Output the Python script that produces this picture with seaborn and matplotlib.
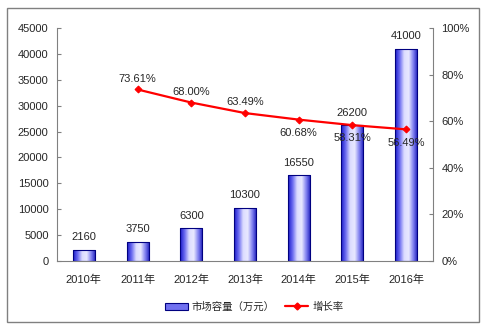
import numpy as np
import pandas as pd
import matplotlib
matplotlib.use("Agg")
import matplotlib.pyplot as plt
from matplotlib.colors import LinearSegmentedColormap
from matplotlib.patches import Rectangle
from matplotlib.lines import Line2D
import seaborn as sns

years = ["2010年", "2011年", "2012年", "2013年", "2014年", "2015年", "2016年"]
capacity = [2160, 3750, 6300, 10300, 16550, 26200, 41000]
growth_years = ["2011年", "2012年", "2013年", "2014年", "2015年", "2016年"]
growth = [73.61, 68.00, 63.49, 60.68, 58.31, 56.49]
growth_above = [True, True, True, False, False, False]
left_ticks = [0, 5000, 10000, 15000, 20000, 25000, 30000, 35000, 40000, 45000]
right_ticks = [0, 20, 40, 60, 80, 100]

sns.set_style("white")
plt.rcParams['font.family'] = ['Liberation Sans', 'Noto Sans CJK SC']

fig = plt.figure(figsize=(4.88, 3.25), dpi=100)
ax = fig.add_axes([57/488, 1-261/325, (433-57)/488, (261-28)/325])

df = pd.DataFrame({"year": years, "cap": capacity})
sns.barplot(data=df, x="year", y="cap", ax=ax, width=0.41, color="#4040e0",
            edgecolor="#000080", linewidth=0.8, saturation=1)
ax.set_xlim(-0.5, len(years)-0.5)
ax.set_ylim(0, 45000)

cmap = LinearSegmentedColormap.from_list("g", ["#1818c8", "#6a6af0", "#dcdcff", "#e8e8ff", "#8080f0", "#1818b8"])
grad = np.linspace(0, 1, 256).reshape(1, -1)
for p in ax.patches:
    x0, y0 = p.get_x(), p.get_y()
    w, h = p.get_width(), p.get_height()
    im = ax.imshow(grad, cmap=cmap, aspect="auto", extent=[x0, x0+w, y0, y0+h], zorder=p.get_zorder()+0.1)
    im.set_clip_path(p)
    p.set_facecolor("none")
    p.set_zorder(p.get_zorder()+0.2)
ax.set_xlim(-0.5, len(years)-0.5)
ax.set_ylim(0, 45000)

for i, v in enumerate(capacity):
    ax.text(i, v + 1500, f"{v}", ha="center", va="bottom", fontsize=8)

ax.set_yticks(left_ticks)
ax.set_yticklabels([str(t) for t in left_ticks], fontsize=8)
ax.set_xticks(range(len(years)))
ax.set_xticklabels(years, fontsize=8)
ax.set_xticks(np.arange(0.5, len(years)-1, 1), minor=True)
ax.tick_params(axis="x", which="major", length=0, pad=10)
ax.tick_params(axis="x", which="minor", direction="in", length=3, color="#808080", width=0.8)
ax.tick_params(axis="y", direction="in", length=3, color="#808080", width=0.8, left=True, pad=6)
ax.set_xlabel("")
ax.set_ylabel("")
for s in ["left", "bottom"]:
    ax.spines[s].set_color("#808080")
    ax.spines[s].set_linewidth(0.8)
ax.spines["top"].set_visible(False)
ax.spines["right"].set_visible(False)

ax2 = ax.twinx()
gx = [years.index(y) for y in growth_years]
gdf = pd.DataFrame({"x": gx, "g": growth})
sns.lineplot(data=gdf, x="x", y="g", ax=ax2, color="#ff0000", linewidth=1.6,
             marker="D", markersize=3.5, markeredgecolor="#ff0000")
ax2.set_ylim(0, 100)
ax2.set_xlim(-0.5, len(years)-0.5)
ax2.set_yticks(right_ticks)
ax2.set_yticklabels([f"{t}%" for t in right_ticks], fontsize=8)
ax2.tick_params(axis="y", direction="in", length=3, color="#808080", width=0.8, right=True, pad=6)
ax2.set_ylabel("")
ax2.set_xlabel("")
for s in ["top", "left", "bottom"]:
    ax2.spines[s].set_visible(False)
ax2.spines["right"].set_color("#808080")
ax2.spines["right"].set_linewidth(0.8)
for x, g, up in zip(gx, growth, growth_above):
    ax2.text(x, g + (2.5 if up else -3.5), f"{g:.2f}%", ha="center",
             va="bottom" if up else "top", fontsize=8)

handles = [Rectangle((0, 0), 1, 1, facecolor="#7070f0", edgecolor="#000080", linewidth=0.8),
           Line2D([], [], color="#ff0000", linewidth=1.6, marker="D", markersize=3.5)]
fig.legend(handles, ["市场容量（万元）", "增长率"], loc="center", bbox_to_anchor=(254/488, 1-307/325),
           ncol=2, frameon=False, fontsize=7.5, handlelength=2.2, columnspacing=1.0, handletextpad=0.4)

fig.patches.append(Rectangle((7/488, 1-322/325), (479-7)/488, (322-8)/325, transform=fig.transFigure,
                             fill=False, edgecolor="#808080", linewidth=1.0))

fig.savefig("out.png", dpi=100)
